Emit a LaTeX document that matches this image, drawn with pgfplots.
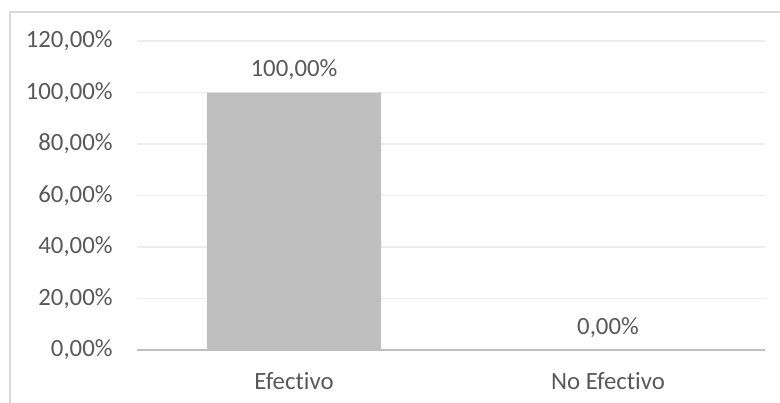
\documentclass[border=0pt]{standalone}
\usepackage{pgfplots}
\pgfplotsset{compat=1.18}
\usepackage{fontspec}
\setmainfont{Carlito}[Ligatures={NoCommon}]
\definecolor{txt}{HTML}{595959}
\definecolor{barc}{HTML}{BFBFBF}
\definecolor{gridc}{HTML}{EDEDED}
\definecolor{bord}{HTML}{D9D9D9}
\begin{document}
\begin{tikzpicture}
\useasboundingbox (-68.5pt,-26pt) rectangle (321.5pt,175pt);
\draw[bord, line width=0.6pt] (-63.5pt,-30pt) -- (-63.5pt,169pt) -- (330pt,169pt);
\begin{axis}[
  at={(0pt,0pt)}, anchor=south west,
  scale only axis, width=314pt, height=154.5pt,
  xmin=-0.5, xmax=1.5, ymin=0, ymax=120,
  xtick={0,1}, xticklabels={Efectivo, No Efectivo},
  ytick={0,20,40,60,80,100,120},
  major tick length=0,
  axis line style={draw=none},
  ymajorgrids, grid style={gridc, line width=0.6pt},
  extra y ticks={0}, extra y tick labels={},
  extra y tick style={grid style={barc, line width=1.4pt}},
  font=\fontsize{12.4}{14}\selectfont,
  yticklabel={\pgfmathprintnumber[fixed,fixed zerofill,precision=2,use comma,assume math mode=true]{\tick}\%},
  yticklabel style={txt, anchor=east, inner sep=0pt, xshift=-12pt},
  xticklabel style={txt, anchor=north, inner sep=0pt, yshift=-11pt},
  nodes near coords={\pgfmathprintnumber[fixed,fixed zerofill,precision=2,use comma,assume math mode=true]{\pgfplotspointmeta}\%},
  nodes near coords style={txt, anchor=base, inner sep=0pt, yshift=8pt},
  clip=false,
]
\addplot[ybar, bar width=87pt, fill=barc, draw=none] coordinates {(0,100) (1,0)};
\end{axis}
\end{tikzpicture}
\end{document}
